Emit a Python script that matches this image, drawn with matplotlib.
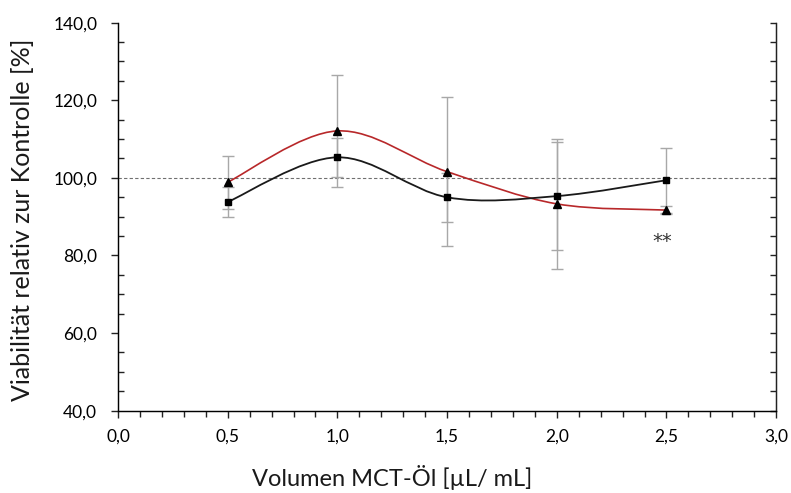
import numpy as np
import matplotlib
matplotlib.use("Agg")
import matplotlib.pyplot as plt
from matplotlib.path import Path
from matplotlib.patches import PathPatch
from matplotlib.ticker import MultipleLocator, FuncFormatter

# Volumen MCT-Öl [µL/mL]
volumen = [0.5, 1.0, 1.5, 2.0, 2.5]

# Viabilität relativ zur Kontrolle [%]
viab_quadrat = [93.8, 105.3, 95.0, 95.3, 99.4]
sd_quadrat = [3.8, 5.0, 6.3, 14.0, 8.4]
viab_dreieck = [98.9, 112.1, 101.6, 93.3, 91.7]
sd_dreieck = [6.8, 14.5, 19.2, 16.7, 1.0]

signif_text = "**"
signif_pos = (2.48, 83.5)

plt.rcParams['font.family'] = ['Lato', 'DejaVu Sans']


def smooth_path(x, y):
    # Bezier-Glaettung wie in Excel (Catmull-Rom)
    pts = np.column_stack([x, y]).astype(float)
    verts = [pts[0]]
    codes = [Path.MOVETO]
    n = len(pts)
    for i in range(n - 1):
        p0 = pts[i - 1] if i > 0 else pts[i]
        p1 = pts[i]
        p2 = pts[i + 1]
        p3 = pts[i + 2] if i + 2 < n else pts[i + 1]
        c1 = p1 + (p2 - p0) / 6.0
        c2 = p2 - (p3 - p1) / 6.0
        verts += [c1, c2, p2]
        codes += [Path.CURVE4] * 3
    return Path(verts, codes)


fig = plt.figure(figsize=(7.91, 4.93), dpi=100)
ax = fig.add_axes([0.1492, 0.167, 0.832, 0.787])

# Fehlerbalken
ax.errorbar(volumen, viab_dreieck, yerr=sd_dreieck, fmt='none', ecolor='#a8a8a8',
            elinewidth=1.0, capsize=4, capthick=1.0, zorder=2)
ax.errorbar(volumen, viab_quadrat, yerr=sd_quadrat, fmt='none', ecolor='#a8a8a8',
            elinewidth=1.0, capsize=4, capthick=1.0, zorder=2)

# Referenzlinie 100 %
ax.axhline(100, color='#707070', lw=0.8, ls=(0, (3, 2)), zorder=1)

# geglaettete Linien
ax.add_patch(PathPatch(smooth_path(volumen, viab_dreieck), fill=False,
                       edgecolor='#b8282a', lw=1.2, zorder=3))
ax.add_patch(PathPatch(smooth_path(volumen, viab_quadrat), fill=False,
                       edgecolor='#1a1a1a', lw=1.3, zorder=3))

ax.plot(volumen, viab_quadrat, ls='none', marker='s', ms=4, color='black', zorder=4)
ax.plot(volumen, viab_dreieck, ls='none', marker='^', ms=6, color='black', zorder=4)

ax.text(signif_pos[0], signif_pos[1], signif_text, ha='center', va='center',
        fontsize=14, color='#333333', family='DejaVu Sans')

ax.set_xlim(0, 3.0)
ax.set_ylim(40, 140)

komma = FuncFormatter(lambda v, p: f"{v:.1f}".replace('.', ','))
ax.xaxis.set_major_locator(MultipleLocator(0.5))
ax.xaxis.set_minor_locator(MultipleLocator(0.1))
ax.yaxis.set_major_locator(MultipleLocator(20))
ax.yaxis.set_minor_locator(MultipleLocator(5))
ax.xaxis.set_major_formatter(komma)
ax.yaxis.set_major_formatter(komma)

ax.spines['top'].set_visible(False)
for s in ['left', 'bottom', 'right']:
    ax.spines[s].set_linewidth(1.0)
    ax.spines[s].set_color('#222222')

ax.tick_params(axis='x', which='major', direction='out', length=5, width=1,
               color='#222222', labelsize=12.5, pad=8)
ax.tick_params(axis='x', which='minor', direction='out', length=4, width=1,
               color='#222222')
ax.tick_params(axis='y', which='major', direction='out', length=5, width=1,
               color='#222222', labelsize=12.5, pad=10)
ax.tick_params(axis='y', which='minor', direction='in', length=4, width=1,
               color='#222222')

# rechte Achse nur mit Teilstrichen
ax2 = ax.twinx()
ax2.set_ylim(40, 140)
ax2.yaxis.set_major_locator(MultipleLocator(20))
ax2.yaxis.set_minor_locator(MultipleLocator(5))
ax2.tick_params(axis='y', which='both', direction='in', length=4, width=1,
                color='#222222', labelright=False)
ax2.spines['top'].set_visible(False)
ax2.spines['right'].set_color('#222222')

fig.text(392 / 791, 1 - 477 / 493, "Volumen MCT-Öl [µL/ mL]", fontsize=17,
         ha='center', va='center', color='#1a1a1a')
fig.text(23 / 791, 1 - 220 / 493, "Viabilität relativ zur Kontrolle [%]",
         fontsize=18, rotation=90, ha='center', va='center', color='#1a1a1a')

fig.savefig("out.png", dpi=100)
